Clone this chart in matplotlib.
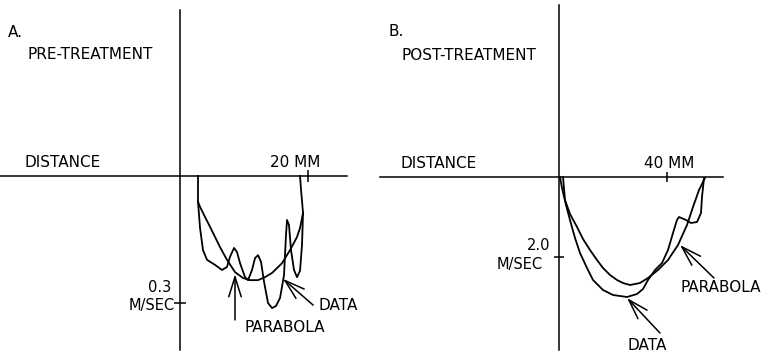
import matplotlib.pyplot as plt

# A. pre-treatment: distance (mm) and velocity (m/s, drawn downward)
pre_data_mm = [2.81, 2.81, 3.13, 3.59, 4.22, 5.47, 6.56, 7.34, 7.81, 8.44, 8.91, 9.38,
               10.16, 10.63, 11.25, 11.72, 12.19, 12.66, 13.13, 13.75, 14.38, 15.0,
               15.63, 16.25, 16.56, 16.72, 17.03, 17.34, 17.81, 18.28, 18.75, 19.06,
               19.22, 18.91, 18.75]
pre_data_vel = [0.0, 0.061, 0.123, 0.175, 0.198, 0.210, 0.222, 0.215, 0.191, 0.170,
                0.180, 0.206, 0.239, 0.246, 0.222, 0.194, 0.187, 0.203, 0.250, 0.300,
                0.312, 0.307, 0.288, 0.234, 0.139, 0.104, 0.116, 0.175, 0.222, 0.239,
                0.224, 0.163, 0.087, 0.033, 0.0]
pre_parab_mm = [2.81, 3.13, 3.91, 4.69, 5.47, 6.25, 7.34, 8.59, 9.84, 10.94, 12.19,
                13.28, 14.38, 15.94, 17.19, 18.28, 18.75, 19.22]
pre_parab_vel = [0.061, 0.073, 0.097, 0.120, 0.144, 0.168, 0.198, 0.227, 0.241, 0.246,
                 0.246, 0.239, 0.229, 0.206, 0.175, 0.144, 0.123, 0.087]

# B. post-treatment
post_data_mm = [0.37, 1.11, 2.59, 4.07, 5.93, 7.78, 10.37, 12.59, 16.30, 20.0, 25.19,
                28.89, 31.11, 32.96, 35.56, 38.15, 40.37, 42.22, 43.70, 44.44, 47.04,
                48.89, 51.11, 52.59, 52.96, 53.70]
post_data_vel = [0.0, 0.275, 0.70, 1.075, 1.525, 1.90, 2.275, 2.575, 2.825, 2.95, 3.0,
                 2.925, 2.80, 2.575, 2.325, 2.15, 1.825, 1.40, 1.075, 1.0, 1.075, 1.15,
                 1.125, 0.90, 0.50, 0.025]
post_parab_mm = [1.48, 2.22, 4.07, 6.67, 8.89, 11.48, 14.07, 16.30, 18.89, 21.48, 23.70,
                 26.30, 30.0, 32.96, 36.67, 40.37, 44.07, 47.41, 49.63, 51.85, 54.07]
post_parab_vel = [0.0, 0.575, 0.925, 1.25, 1.55, 1.825, 2.075, 2.275, 2.45, 2.575, 2.65,
                  2.70, 2.65, 2.525, 2.325, 2.075, 1.70, 1.20, 0.75, 0.325, 0.025]

plt.rcParams['font.family'] = 'DejaVu Sans'
plt.rcParams['font.size'] = 11

fig = plt.figure(figsize=(7.71, 3.54), dpi=100)
ax_a = fig.add_axes([0, 4 / 354, 347 / 771, 340 / 354])
ax_b = fig.add_axes([380 / 771, 4 / 354, 343 / 771, 345 / 354])


def setup(ax, xlim, ylim, xtick, ytick, ticklen):
    ax.set_xlim(*xlim)
    ax.set_ylim(*ylim)  # inverted: velocity goes down
    ax.spines['top'].set_visible(False)
    ax.spines['right'].set_visible(False)
    ax.spines['left'].set_position(('data', 0))
    ax.spines['bottom'].set_position(('data', 0))
    for s in ['left', 'bottom']:
        ax.spines[s].set_linewidth(1.1)
    ax.set_xticks([xtick])
    ax.set_yticks([ytick])
    ax.tick_params(direction='inout', length=ticklen, width=1.1,
                   labelbottom=False, labelleft=False)
    ax.patch.set_alpha(0)


arrow = dict(arrowstyle='->,head_length=0.9,head_width=0.28', lw=1.1, color='black',
             shrinkA=0, shrinkB=0, mutation_scale=16)

# panel A
setup(ax_a, (-28.125, 26.09), (0.411, -0.392), 20, 0.3, 9)
ax_a.plot(pre_data_mm, pre_data_vel, color='black', lw=1.3)
ax_a.plot(pre_parab_mm, pre_parab_vel, color='black', lw=1.3)
ax_a.text(-26.9, -0.340, 'A.', ha='left', va='center')
ax_a.text(-14.0, -0.286, 'PRE-TREATMENT', ha='center', va='center')
ax_a.text(-18.3, -0.031, 'DISTANCE', ha='center', va='center')
ax_a.text(18.0, -0.031, '20 MM', ha='center', va='center')
ax_a.text(-1.3, 0.263, '0.3', ha='right', va='center', fontsize=10.5)
ax_a.text(-0.8, 0.306, 'M/SEC', ha='right', va='center', fontsize=10.5)
ax_a.annotate('', xy=(8.59, 0.232), xytext=(8.59, 0.340), arrowprops=arrow)
ax_a.text(16.4, 0.359, 'PARABOLA', ha='center', va='center')
ax_a.annotate('', xy=(16.1, 0.243), xytext=(20.8, 0.305), arrowprops=arrow)
ax_a.text(21.6, 0.307, 'DATA', ha='left', va='center')

# panel B
setup(ax_b, (-66.3, 60.74), (4.325, -4.3), 40, 2.0, 7)
ax_b.plot(post_data_mm, post_data_vel, color='black', lw=1.3)
ax_b.plot(post_parab_mm, post_parab_vel, color='black', lw=1.3)
ax_b.text(-63.3, -3.625, 'B.', ha='left', va='center')
ax_b.text(-33.5, -3.05, 'POST-TREATMENT', ha='center', va='center')
ax_b.text(-44.6, -0.35, 'DISTANCE', ha='center', va='center')
ax_b.text(40.7, -0.35, '40 MM', ha='center', va='center')
ax_b.text(-3.3, 1.70, '2.0', ha='right', va='center', fontsize=10.5)
ax_b.text(-5.9, 2.175, 'M/SEC', ha='right', va='center', fontsize=10.5)
ax_b.annotate('', xy=(25.2, 3.025), xytext=(37.4, 3.9), arrowprops=arrow)
ax_b.text(32.6, 4.2, 'DATA', ha='center', va='center')
ax_b.annotate('', xy=(44.8, 1.70), xytext=(57.4, 2.525), arrowprops=arrow)
ax_b.text(59.8, 2.775, 'PARABOLA', ha='center', va='center')

fig.savefig('out.png', dpi=100)
